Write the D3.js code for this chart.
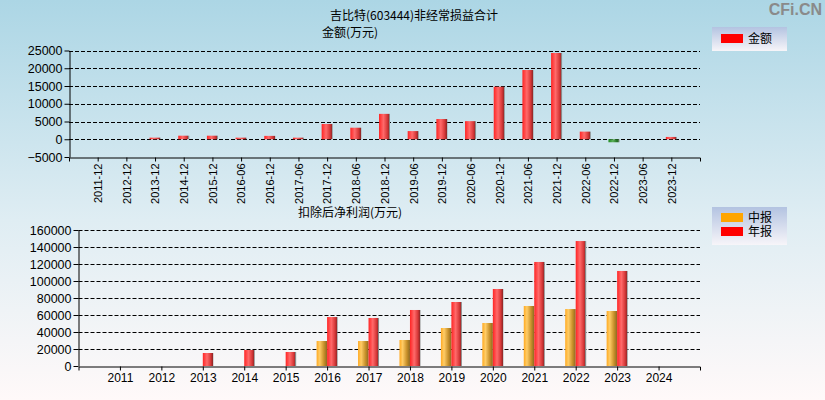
<!DOCTYPE html>
<html>
<head>
<meta charset="utf-8">
<script src="https://cdn.jsdelivr.net/npm/d3@7"></script>
<style>
  body { margin: 0; padding: 0; }
  svg { display: block; font-family: "Liberation Sans", Arial, "Noto Sans CJK SC", sans-serif; }
  .grid line { stroke: #000; stroke-dasharray: 4,2; }
  .axis path, .axis line { stroke: #000; }
  .axis text { fill: #000; }
</style>
</head>
<body>
<div id="chart"></div>
<script>
// Top chart: non-recurring gains and losses (万元)
var topCategories = ['2011-12', '2012-12', '2013-12', '2014-12', '2015-12', '2016-06', '2016-12',
    '2017-06', '2017-12', '2018-06', '2018-12', '2019-06', '2019-12', '2020-06', '2020-12',
    '2021-06', '2021-12', '2022-06', '2022-12', '2023-06', '2023-12'];
var topValues = [0, 0, 450, 1000, 1000, 450, 950, 450, 4300, 3250, 7150, 2300, 5700, 5100, 14800,
    19500, 24300, 2150, -850, 0, 650];
var topTicks = [-5000, 0, 5000, 10000, 15000, 20000, 25000];

// Bottom chart: net profit after deduction (万元)
var years = ['2011', '2012', '2013', '2014', '2015', '2016', '2017', '2018', '2019', '2020',
    '2021', '2022', '2023', '2024'];
var midValues = [null, null, null, null, null, 29400, 29400, 30600, 44700, 50600, 70600, 67000, 64700, null];
var annualValues = [null, null, 15300, 18800, 16500, 57600, 56500, 65900, 75300, 90600, 122400, 147000, 111800, null];
var bottomTicks = [0, 20000, 40000, 60000, 80000, 100000, 120000, 140000, 160000];

var width = 825, height = 400;
var fontCJK = '"Noto Sans CJK SC", sans-serif';

var svg = d3.select('#chart').append('svg')
    .attr('width', width)
    .attr('height', height);

var defs = svg.append('defs');

// Gradient helper.
function gradient(id, dir, stops) {
    var g = defs.append('linearGradient').attr('id', id)
        .attr('x1', 0).attr('y1', 0)
        .attr('x2', dir === 'h' ? 1 : 0).attr('y2', dir === 'h' ? 0 : 1);
    stops.forEach(function(s) {
        g.append('stop').attr('offset', s[0]).attr('stop-color', s[1]);
    });
}
gradient('bg', 'v', [['0%', '#acd6e5'], ['55%', '#dfedf3'], ['100%', '#fff9f9']]);
gradient('legendBg', 'v', [['0%', '#b3c3e1'], ['100%', '#f7f5f9']]);
gradient('red', 'h', [['0%', '#ff2424'], ['40%', '#ff6a6a'], ['75%', '#d83838'], ['93%', '#982828'], ['93%', '#8a8a8a'], ['100%', '#8a8a8a']]);
gradient('orange', 'h', [['0%', '#ffaa22'], ['30%', '#ffcc66'], ['70%', '#c8902a'], ['100%', '#8c6a20']]);
gradient('green', 'h', [['0%', '#1e8a1e'], ['40%', '#5cb05c'], ['80%', '#1e6e1e'], ['100%', '#7a8a7a']]);

svg.append('rect').attr('width', width).attr('height', height).attr('fill', 'url(#bg)');

// Watermark.
svg.append('text')
    .attr('x', 822).attr('y', 15)
    .attr('text-anchor', 'end')
    .style('font-size', '16px')
    .style('font-weight', 'bold')
    .style('fill', '#8a8a8a')
    .text('CFi.CN');

// Titles.
svg.append('text').attr('x', 330).attr('y', 20)
    .style('font-size', '12px').style('font-family', fontCJK)
    .text('吉比特(603444)非经常损益合计');
svg.append('text').attr('x', 322).attr('y', 37)
    .style('font-size', '12px').style('font-family', fontCJK)
    .text('金额(万元)');
svg.append('text').attr('x', 298).attr('y', 217)
    .style('font-size', '12px').style('font-family', fontCJK)
    .text('扣除后净利润(万元)');

var fmt = d3.format('d');

// ---- Top chart ----
var left1 = 69, right1 = 700, top1 = 50.5, bottom1 = 157;
var x1 = d3.scalePoint().domain(topCategories).range([left1, right1]).padding(1);
var y1 = d3.scaleLinear().domain([-5000, 25000]).range([bottom1, top1]);

var g1 = svg.append('g');

g1.append('g').attr('class', 'grid')
    .selectAll('line')
    .data(topTicks.filter(function(d) { return d > -5000; }))
    .enter().append('line')
    .attr('x1', left1).attr('x2', right1)
    .attr('y1', function(d) { return Math.round(y1(d)) + 0.5; })
    .attr('y2', function(d) { return Math.round(y1(d)) + 0.5; });

var barW1 = 11;
g1.selectAll('.bar')
    .data(topValues.map(function(v, i) { return { cat: topCategories[i], value: v }; })
        .filter(function(d) { return d.value !== 0; }))
    .enter().append('rect')
    .attr('class', 'bar')
    .attr('x', function(d) { return x1(d.cat) - barW1 / 2; })
    .attr('width', barW1)
    .attr('y', function(d) { return y1(Math.max(0, d.value)); })
    .attr('height', function(d) { return Math.abs(y1(d.value) - y1(0)); })
    .attr('fill', function(d) { return d.value < 0 ? 'url(#green)' : 'url(#red)'; });

var yAxis1 = d3.axisLeft(y1).tickValues(topTicks).tickFormat(fmt).tickSize(5).tickSizeOuter(0).tickPadding(2);
g1.append('g').attr('class', 'axis')
    .attr('transform', 'translate(' + (left1 + 0.5) + ',0)')
    .call(yAxis1)
    .call(function(g) { g.selectAll('text').style('font-size', '12.5px'); });

var xAxis1 = d3.axisBottom(x1).tickSize(4).tickSizeOuter(4);
g1.append('g').attr('class', 'axis')
    .attr('transform', 'translate(0,' + (bottom1 + 0.5) + ')')
    .call(xAxis1)
    .call(function(g) {
        g.selectAll('text')
            .style('font-size', '11px')
            .style('text-anchor', 'end')
            .attr('transform', 'rotate(-90)')
            .attr('x', -6)
            .attr('y', 0)
            .attr('dy', '0.35em');
    });

// Legend top.
var lg1 = svg.append('g').attr('transform', 'translate(712,27)');
lg1.append('rect').attr('width', 75).attr('height', 24).attr('fill', 'url(#legendBg)');
lg1.append('rect').attr('x', 9).attr('y', 7).attr('width', 22).attr('height', 9).attr('fill', '#ff0000');
lg1.append('text').attr('x', 36).attr('y', 16).style('font-size', '12px').style('font-family', fontCJK).text('金额');

// ---- Bottom chart ----
var left2 = 78.5, right2 = 700, top2 = 230, bottom2 = 366;
var x2 = d3.scalePoint().domain(years).range([left2, right2]).padding(1);
var y2 = d3.scaleLinear().domain([0, 160000]).range([bottom2, top2]);

var g2 = svg.append('g');

g2.append('g').attr('class', 'grid')
    .selectAll('line')
    .data(bottomTicks.filter(function(d) { return d > 0; }))
    .enter().append('line')
    .attr('x1', left2).attr('x2', right2)
    .attr('y1', function(d) { return Math.round(y2(d)) + 0.5; })
    .attr('y2', function(d) { return Math.round(y2(d)) + 0.5; });

var barW2 = 10.5;
var bars2 = [];
years.forEach(function(yr, i) {
    if (midValues[i] != null) bars2.push({ year: yr, value: midValues[i], type: 'mid' });
    if (annualValues[i] != null) bars2.push({ year: yr, value: annualValues[i], type: 'annual' });
});
g2.selectAll('.bar')
    .data(bars2)
    .enter().append('rect')
    .attr('class', 'bar')
    .attr('x', function(d) { return d.type === 'mid' ? x2(d.year) - barW2 : x2(d.year); })
    .attr('width', barW2)
    .attr('y', function(d) { return y2(d.value); })
    .attr('height', function(d) { return y2(0) - y2(d.value); })
    .attr('fill', function(d) { return d.type === 'mid' ? 'url(#orange)' : 'url(#red)'; });

var yAxis2 = d3.axisLeft(y2).tickValues(bottomTicks).tickFormat(fmt).tickSize(5).tickSizeOuter(0).tickPadding(2);
g2.append('g').attr('class', 'axis')
    .attr('transform', 'translate(' + left2 + ',0)')
    .call(yAxis2)
    .call(function(g) { g.selectAll('text').style('font-size', '12.5px'); });

var xAxis2 = d3.axisBottom(x2).tickSize(4).tickSizeOuter(4).tickPadding(3);
g2.append('g').attr('class', 'axis')
    .attr('transform', 'translate(0,' + (bottom2 + 0.5) + ')')
    .call(xAxis2)
    .call(function(g) { g.selectAll('text').style('font-size', '12px'); });

// Legend bottom.
var lg2 = svg.append('g').attr('transform', 'translate(712,207)');
lg2.append('rect').attr('width', 75).attr('height', 38).attr('fill', 'url(#legendBg)');
lg2.append('rect').attr('x', 9).attr('y', 6).attr('width', 22).attr('height', 9).attr('fill', '#ffa500');
lg2.append('rect').attr('x', 9).attr('y', 20).attr('width', 22).attr('height', 9).attr('fill', '#ff0000');
lg2.append('text').attr('x', 36).attr('y', 15).style('font-size', '12px').style('font-family', fontCJK).text('中报');
lg2.append('text').attr('x', 36).attr('y', 29).style('font-size', '12px').style('font-family', fontCJK).text('年报');
</script>
</body>
</html>
